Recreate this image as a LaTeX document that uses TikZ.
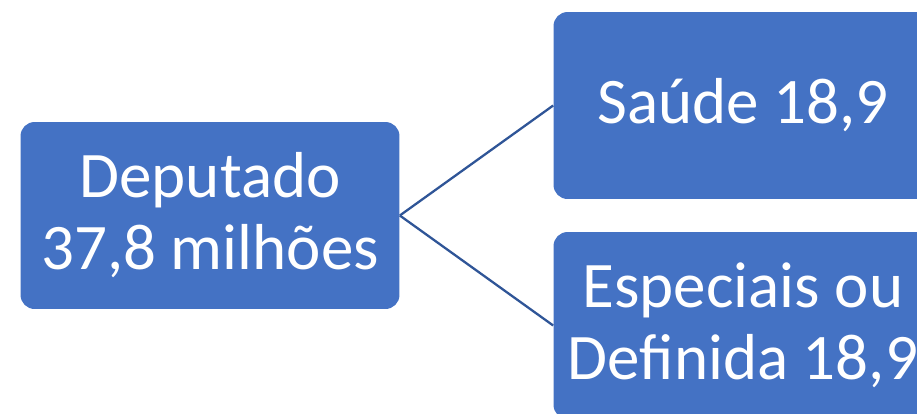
\documentclass[tikz,border=0pt]{standalone}
\usepackage{fontspec}
\setmainfont{Carlito}
\usetikzlibrary{positioning}
\definecolor{boxblue}{HTML}{4472C4}
\definecolor{linkblue}{HTML}{2F5597}

\begin{document}
\begin{tikzpicture}[x=0.02cm, y=-0.02cm,
		budget box/.style = {fill=boxblue, draw=none,
					rounded corners=0.28cm,
                   minimum width=7.58cm, minimum height=3.74cm,
                   text=white, align=center,
                   font=\fontsize{37}{41}\selectfont},
		link/.style = {draw=linkblue, line width=1.3pt}
                   ]

%Frame of the picture
    \useasboundingbox (0,0) rectangle (917,413);
    \clip (0,0) rectangle (917,413);

%Boxes
    \node[budget box] (dep) at (210,215.5) {Deputado\\37,8 milhões};
    \node[budget box] (saude) at (743,105.5) {Saúde 18,9};
    \node[budget box] (espec) at (743,325.5) {Especiais ou\\Definida 18,9};

%Links
    \draw[link] (dep.east) -- (saude.west);
    \draw[link] (dep.east) -- (espec.west);

\end{tikzpicture}
\end{document}
